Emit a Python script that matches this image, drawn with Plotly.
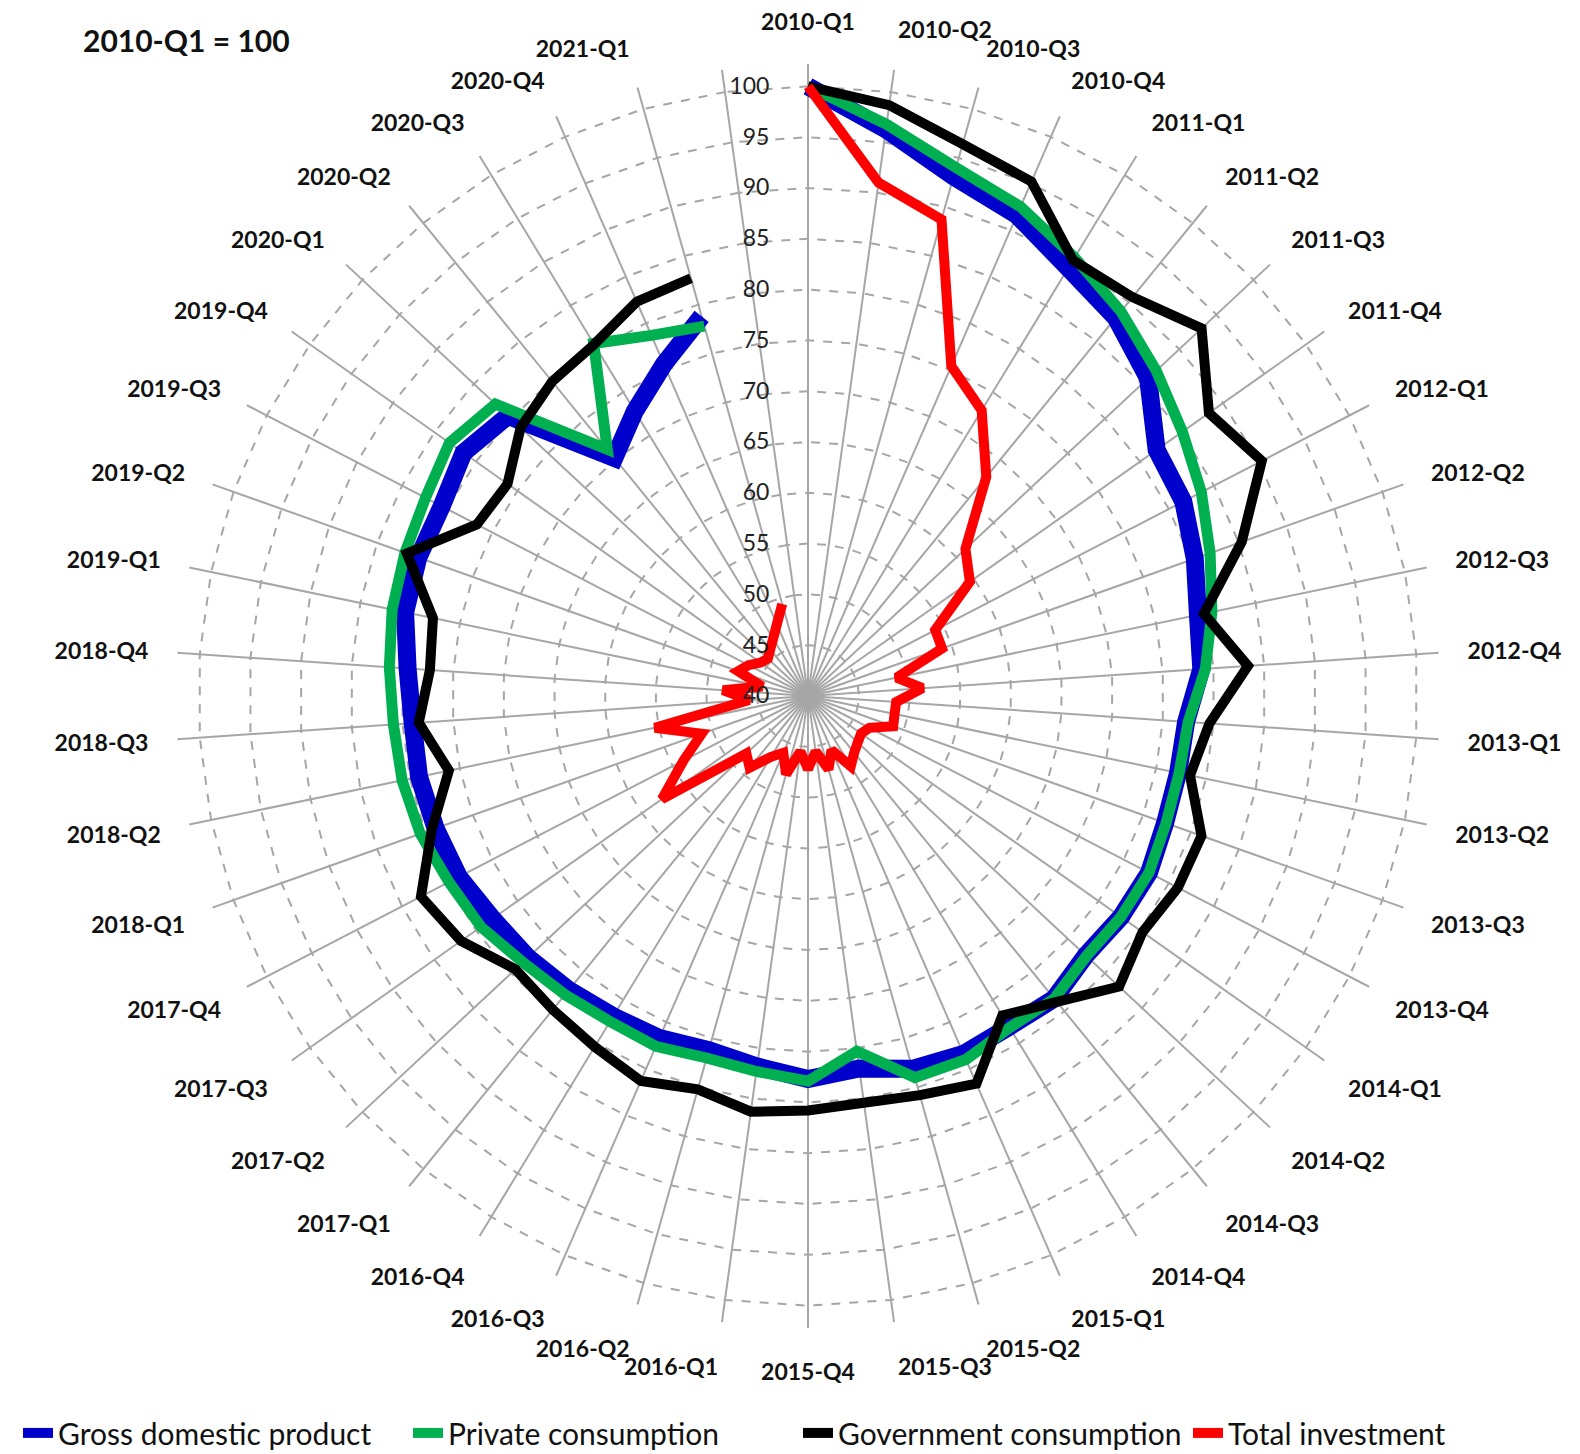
import plotly.graph_objects as go

quarters = [
    "2010-Q1", "2010-Q2", "2010-Q3", "2010-Q4",
    "2011-Q1", "2011-Q2", "2011-Q3", "2011-Q4",
    "2012-Q1", "2012-Q2", "2012-Q3", "2012-Q4",
    "2013-Q1", "2013-Q2", "2013-Q3", "2013-Q4",
    "2014-Q1", "2014-Q2", "2014-Q3", "2014-Q4",
    "2015-Q1", "2015-Q2", "2015-Q3", "2015-Q4",
    "2016-Q1", "2016-Q2", "2016-Q3", "2016-Q4",
    "2017-Q1", "2017-Q2", "2017-Q3", "2017-Q4",
    "2018-Q1", "2018-Q2", "2018-Q3", "2018-Q4",
    "2019-Q1", "2019-Q2", "2019-Q3", "2019-Q4",
    "2020-Q1", "2020-Q2", "2020-Q3", "2020-Q4",
    "2021-Q1",
]
# the chart has one extra, unlabeled category after 2021-Q1
categories = quarters + [" "]

gdp = [100, 96.3, 93.1, 91.6, 89.3, 88.0, 85.8, 82.0, 81.6, 80.4,
       79.2, 78.8, 77.3, 77.2, 77.3, 77.8, 77.7, 77.4, 78.4, 78.1,
       78.4, 78.1, 77.0, 77.7, 76.8, 76.2, 76.7, 76.9, 77.3, 77.7,
       78.0, 78.7, 78.9, 79.1, 79.0, 79.5, 80.5, 80.7, 80.6, 81.5,
       80.4, 70.2, 72.8, 75.6, 78.8]

private_cons = [100, 96.8, 94.0, 92.5, 90.5, 88.8, 86.9, 85.1, 83.6, 82.0,
                80.6, 79.2, 77.5, 77.3, 77.4, 77.8, 77.7, 77.5, 78.4, 78.2,
                79.0, 79.0, 75.3, 77.9, 77.3, 77.0, 77.6, 77.5, 77.9, 78.4,
                79.4, 79.8, 80.5, 80.8, 80.9, 81.3, 81.8, 82.1, 82.4, 83.2,
                82.1, 71.3, 80.6, 78.7, 77.8]

gov_cons = [100, 98.7, 96.4, 95.2, 90.2, 90.6, 93.0, 88.3, 90.3, 85.3,
            79.8, 83.4, 79.6, 78.4, 81.1, 81.0, 80.3, 81.9, 78.8, 76.8,
            81.6, 80.8, 80.4, 80.8, 81.3, 80.2, 81.3, 80.4, 79.8, 79.4,
            81.8, 82.9, 79.3, 76.1, 78.4, 77.3, 77.7, 81.9, 76.7, 76.2,
            78.7, 79.9, 80.5, 82.3, 82.7]

total_inv = [100, 91.0, 88.7, 75.4, 72.9, 67.8, 61.2, 59.5, 54.1, 54.0,
             48.9, 51.3, 48.7, 48.7, 48.9, 46.8, 46.4, 46.7, 47.2, 48.1,
             45.8, 47.5, 45.5, 47.2, 45.5, 48.0, 46.1, 47.0, 49.1, 48.3,
             57.6, 53.8, 51.1, 55.4, 45.8, 48.4, 44.6, 47.3, 46.6, 45.7,
             45.4, 45.9, 46.6, 47.7, 49.4]

series_names = ["Gross domestic product", "Private consumption",
                "Government consumption", "Total investment"]
series_values = [gdp, private_cons, gov_cons, total_inv]
series_colors = ["#0000CC", "#00B050", "#000000", "#FF0000"]
series_widths = [18, 11, 10, 10]

radial_ticks = [40, 45, 50, 55, 60, 65, 70, 75, 80, 85, 90, 95, 100]

fig = go.Figure()
for name, vals, col, w in zip(series_names, series_values, series_colors, series_widths):
    fig.add_trace(go.Scatterpolar(
        r=vals, theta=quarters, mode="lines", name=name,
        line=dict(color=col, width=w),
    ))

R = 632  # px radius of outer edge
cx, cy = 800, 688
W, H = 1580, 1454

fig.update_layout(
    width=W, height=H,
    margin=dict(l=0, r=0, t=0, b=0),
    paper_bgcolor="white",
    font=dict(family="Lato", color="#111111"),
    polar=dict(
        gridshape="linear",
        bgcolor="white",
        domain=dict(x=[(cx - R) / W, (cx + R) / W],
                    y=[(H - cy - R) / H, (H - cy + R) / H]),
        angularaxis=dict(
            type="category",
            categoryorder="array",
            categoryarray=categories,
            rotation=90,
            direction="clockwise",
            showgrid=True,
            gridcolor="#A6A6A6",
            gridwidth=2,
            showline=False,
            ticks="outside",
            ticklen=24,
            tickcolor="rgba(0,0,0,0)",
            tickfont=dict(family="Lato", size=23, color="#111111", weight="bold"),
        ),
        radialaxis=dict(
            range=[40, 102.2],
            tickvals=radial_ticks,
            ticktext=[str(v) for v in radial_ticks],
            angle=90,
            side="counterclockwise",
            showline=False,
            ticks="outside",
            ticklen=30,
            tickcolor="rgba(0,0,0,0)",
            showgrid=True,
            gridcolor="#A6A6A6",
            gridwidth=2,
            griddash="dash",
            tickangle=90,
            tickfont=dict(family="Lato", size=23, color="#222222"),
        ),
    ),
    legend=dict(
        orientation="h",
        x=0.5, xanchor="center",
        y=0.02, yanchor="middle",
        font=dict(family="Lato", size=30, color="#111111"),
        bgcolor="rgba(0,0,0,0)",
        entrywidthmode="pixels",
        entrywidth=345,
    ),
    annotations=[dict(
        text="<b>2010-Q1 = 100</b>",
        x=178 / W, y=1 - 32 / H, xref="paper", yref="paper",
        xanchor="center", yanchor="middle", showarrow=False,
        font=dict(family="Lato", size=30, color="#111111"),
    )],
)

fig.write_html("out.html", config={"displayModeBar": False})
